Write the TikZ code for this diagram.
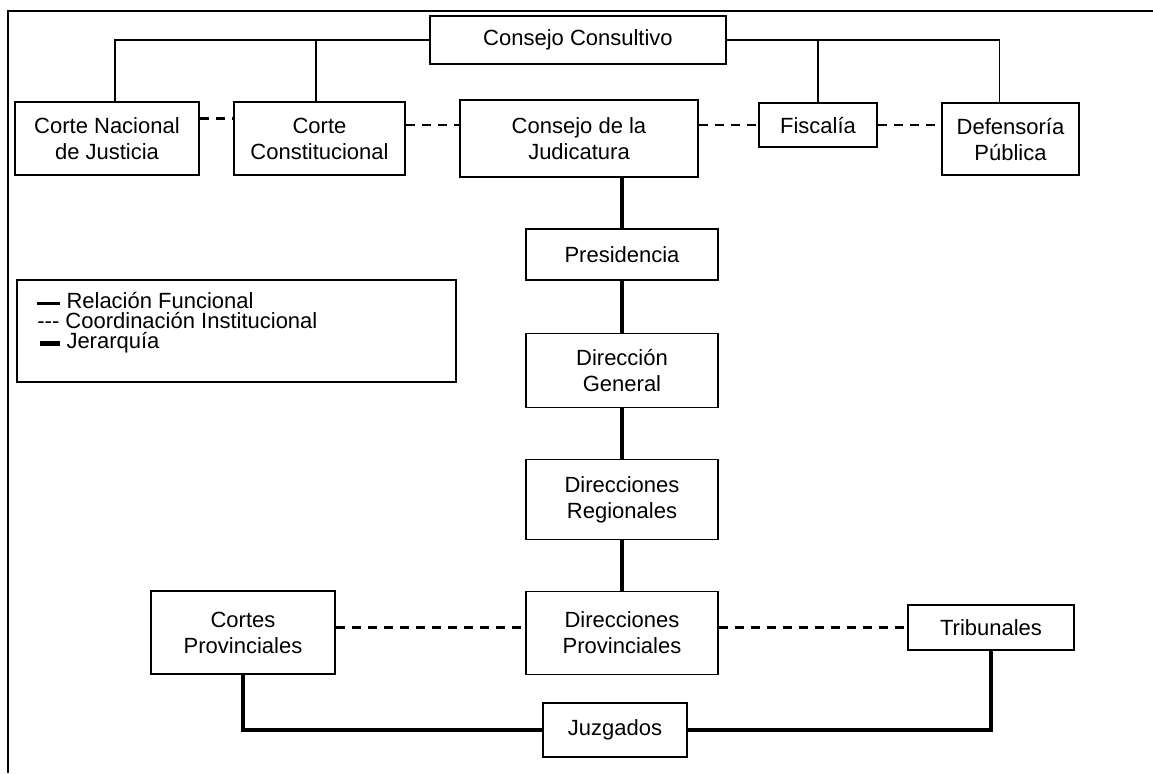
\documentclass[tikz,border=0pt]{standalone}
\usepackage{fontspec}
\setmainfont{Liberation Sans}
\usepackage{tikz}
\usetikzlibrary{positioning}
\tikzstyle{box} = [rectangle, draw=black, line width=0.75pt, align=center, inner sep=2pt]
\tikzstyle{funcional} = [line width=0.75pt]
\tikzstyle{jerarquia} = [line width=2pt]
\tikzstyle{coordinacion} = [line width=1.4pt, dash pattern=on 4.5pt off 3.5pt]
\tikzstyle{marco} = [line width=1.2pt]

\begin{document}
\begin{tikzpicture}[x=0.5pt, y=-0.5pt, node distance=58pt, font=\fontsize{11}{13}\selectfont]
    \useasboundingbox (0,0) rectangle (1153,773);
    \draw [marco] (1153,11) -- (8,11) -- (8,773);

    % fila superior
    \node (consultivo) [box, minimum width=148pt, minimum height=24pt] at (578,40) {Consejo Consultivo};
    \node (nacional) [box, minimum width=92pt, minimum height=36.5pt] at (107,138.5) {Corte Nacional\\de Justicia};
    \node (constitucional) [box, minimum width=85.5pt, minimum height=36.5pt] at (319.5,138.5) {Corte\\Constitucional};
    \node (judicatura) [box, minimum width=119pt, minimum height=38.5pt] at (579,138.5) {Consejo de la\\Judicatura};
    \node (fiscalia) [box, minimum width=59pt, minimum height=22pt] at (818,125) {Fiscalía};
    \node (defensoria) [box, minimum width=68.5pt, minimum height=36pt] at (1010.5,139) {Defensoría\\Pública};

    % columna central
    \node (presidencia) [box, minimum width=96pt, minimum height=25.5pt, below of=judicatura, xshift=21.5pt] {Presidencia};
    \node (general) [box, minimum width=96pt, minimum height=37pt, below of=presidencia] {Dirección\\General};
    \node (regionales) [box, minimum width=96pt, minimum height=40pt, below of=general, yshift=-6.5pt] {Direcciones\\Regionales};
    \node (provinciales) [box, minimum width=96pt, minimum height=41.5pt, below of=regionales, yshift=-8.75pt] {Direcciones\\Provinciales};

    % fila inferior
    \node (cortes) [box, minimum width=92pt, minimum height=41.5pt] at (243,632.5) {Cortes\\Provinciales};
    \node (tribunales) [box, minimum width=83pt, minimum height=22.5pt] at (991,627.5) {Tribunales};
    \node (juzgados) [box, minimum width=72pt, minimum height=27pt] at (615,730) {Juzgados};

    % leyenda
    \node (leyenda) [box, minimum width=219.5pt, minimum height=51pt] at (236.5,331) {};
    \node (leyenda_text) [anchor=north west, align=left, inner sep=0pt, font=\fontsize{11}{10}\selectfont] at (37,292)
        {\rule[0.3ex]{11.5pt}{1.5pt} Relación Funcional\\
         -{}-{}- Coordinación Institucional\\
         \hspace{1.5pt}\rule[0.2ex]{10pt}{2.6pt} Jerarquía};

    % consejo consultivo
    \draw [funcional] (consultivo.west) -| ([xshift=4pt]nacional.north);
    \draw [funcional] ([xshift=-1.75pt]constitucional.north) -- ([xshift=-1.75pt]constitucional.north |- consultivo.west);
    \draw [funcional] (consultivo.east) -| ([xshift=-5.5pt]defensoria.north);
    \draw [funcional] (fiscalia.north) -- (fiscalia.north |- consultivo.east);

    % coordinacion
    \draw [coordinacion] ([yshift=10pt]nacional.east) -- ([yshift=10pt]constitucional.west);
    \draw [coordinacion] (constitucional.east |- fiscalia.west) -- (judicatura.west |- fiscalia.west);
    \draw [coordinacion] (judicatura.east |- fiscalia.west) -- (fiscalia.west);
    \draw [coordinacion] (fiscalia.east) -- (fiscalia.east -| defensoria.west);
    \draw [coordinacion] (cortes.east |- tribunales.west) -- (provinciales.west |- tribunales.west);
    \draw [coordinacion] (provinciales.east |- tribunales.west) -- (tribunales.west);

    % jerarquia
    \draw [jerarquia] (presidencia.north) -- (presidencia.north |- judicatura.south);
    \draw [jerarquia] (presidencia) -- (general);
    \draw [jerarquia] (general) -- (regionales);
    \draw [jerarquia] (regionales) -- (provinciales);
    \draw [jerarquia] (cortes.south) |- (juzgados.west);
    \draw [jerarquia] (tribunales.south) |- (juzgados.east);

\end{tikzpicture}
\end{document}
